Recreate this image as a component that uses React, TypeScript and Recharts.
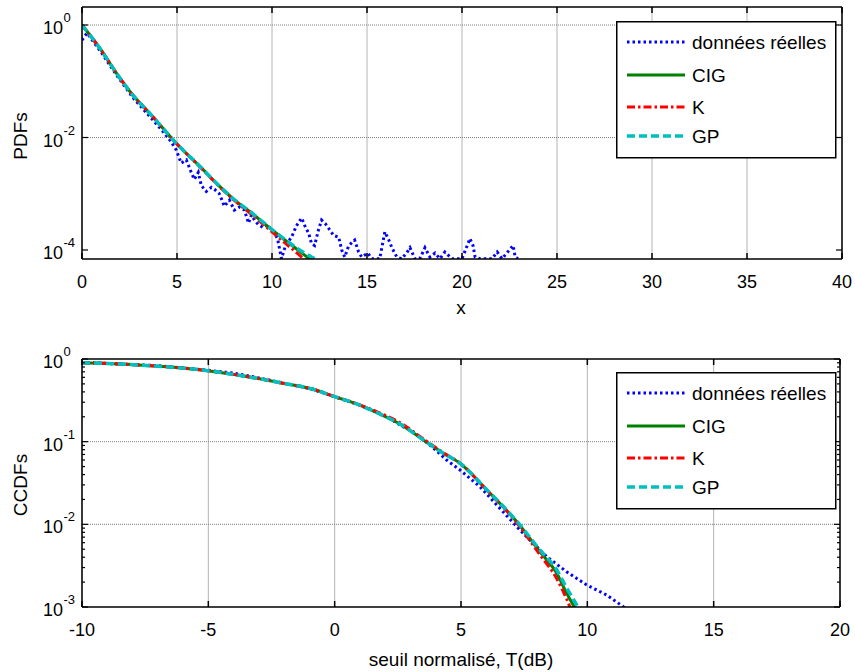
import { LineChart, Line, XAxis, YAxis, CartesianGrid, ReferenceLine } from 'recharts';

const FONT = '"Liberation Sans", Arial, Helvetica, sans-serif';

// ---- top panel: PDFs ----
const pdfTicksX = [0, 5, 10, 15, 20, 25, 30, 35, 40];
const pdfTicksY = [1e-4, 1e-2, 1];
const pdfGridY = [1e-2, 1];

const pdfFitX = [0, 1.0, 1.88, 2.74, 3.64, 4.96, 6.28, 7.16, 8.02, 8.92, 9.8, 10.66, 11.56, 12.4];
const pdfCig = [1.0, 0.36, 0.129, 0.0535, 0.0252, 0.0079, 0.00288, 0.00144, 0.00078, 0.000455, 0.000259, 0.000152, 0.000089, 0.000054];
const pdfK = [1.0, 0.36, 0.129, 0.0535, 0.0252, 0.0079, 0.00285, 0.00142, 0.00076, 0.00043, 0.00024, 0.000135, 0.000075, 0.00004];
const pdfGp = [1.0, 0.36, 0.129, 0.0535, 0.0252, 0.0079, 0.0029, 0.00145, 0.00079, 0.00046, 0.000262, 0.000155, 0.000095, 0.000066];

const pdfDataX = [
  0, 0.26, 1.0, 1.85, 2.74, 3.64, 4.33, 4.7, 4.96, 5.22, 5.49, 5.75, 5.91, 6.12, 6.28, 6.54, 6.81, 6.97,
  7.23, 7.49, 7.76, 8.02, 8.28, 8.55, 8.76, 8.92, 9.08, 9.29, 9.55, 9.76, 10.08, 10.29, 10.5, 10.71,
  11.03, 11.29, 11.56, 11.77, 11.93, 12.08, 12.24, 12.45, 12.61, 12.82, 13.03, 13.25, 13.51, 13.67,
  13.83, 14.04, 14.35, 14.56, 14.72, 15.04, 15.25, 15.67, 15.94, 16.15, 16.31, 16.57, 16.83, 17.1,
  17.26, 17.52, 17.78, 18.05, 18.31, 18.58, 18.84, 19.1, 19.47, 20.0, 20.42, 20.58, 20.69, 20.95,
  21.58, 21.85, 22.11, 22.69, 22.8, 22.95,
];
const pdfData = [
  0.54, 0.72, 0.331, 0.124, 0.0483, 0.0222, 0.012, 0.0083, 0.006, 0.0035, 0.004, 0.0024, 0.0018, 0.0024,
  0.0014, 0.0011, 0.0013, 0.0012, 0.001, 0.0006, 0.00077, 0.00051, 0.00058, 0.00051, 0.0003, 0.00042,
  0.00034, 0.00028, 0.00025, 0.00028, 0.00021, 0.00016, 0.00007, 0.00012, 0.00017, 0.00027, 0.00037,
  0.00025, 0.0002, 0.00013, 0.00012, 0.00023, 0.00034, 0.00029, 0.00023, 0.00018, 0.00017, 0.0001,
  0.000075, 0.00012, 0.00015, 0.000092, 0.000075, 0.000088, 0.00007, 0.00007, 0.00021, 0.00015,
  0.00011, 0.000075, 0.00007, 0.00009, 0.00011, 0.00007, 0.00007, 0.00011, 0.000075, 0.0000885,
  0.00007, 0.000092, 0.00007, 0.00007, 0.00016, 0.00012, 0.000075, 0.00007, 0.00007, 0.000092,
  0.00007, 0.00012, 0.000075, 0.00007,
];

// ---- bottom panel: CCDFs ----
const ccdfTicksX = [-10, -5, 0, 5, 10, 15, 20];
const ccdfTicksY = [1e-3, 1e-2, 1e-1, 1];
const ccdfMinorY = [
  0.002, 0.003, 0.004, 0.005, 0.006, 0.007, 0.008, 0.009,
  0.02, 0.03, 0.04, 0.05, 0.06, 0.07, 0.08, 0.09,
  0.2, 0.3, 0.4, 0.5, 0.6, 0.7, 0.8, 0.9,
];
const ccdfGridY = [1e-2, 1e-1];

const ccdfFitX = [-10, -9.16, -7.77, -6.39, -5.03, -3.62, -2.16, -0.85, 0, 0.87, 1.79, 2.58, 3.51, 4.3, 4.96, 6.02, 7.2, 8.12, 8.79, 9.18, 9.51, 9.8];
const ccdfCig = [0.9, 0.887, 0.846, 0.794, 0.722, 0.623, 0.517, 0.43, 0.35, 0.286, 0.216, 0.164, 0.105, 0.0724, 0.0548, 0.026, 0.0108, 0.00467, 0.00256, 0.00147, 0.00096, 0.0006];
const ccdfK = [0.9, 0.887, 0.846, 0.794, 0.722, 0.623, 0.517, 0.43, 0.35, 0.288, 0.222, 0.17, 0.108, 0.0735, 0.0548, 0.026, 0.0105, 0.0043, 0.0022, 0.00125, 0.0007, 0.0004];
const ccdfGp = [0.9, 0.887, 0.846, 0.794, 0.722, 0.623, 0.517, 0.43, 0.35, 0.286, 0.216, 0.164, 0.105, 0.0724, 0.0548, 0.0262, 0.011, 0.0049, 0.0028, 0.0017, 0.00115, 0.0008];

const ccdfDataX = [-10, -7, -5, -4, -3, -2, -1, 0, 1, 2, 2.7, 3.1, 3.77, 4.43, 4.96, 5.75, 6.54, 7.33, 7.99, 8.39, 9.18, 9.97, 10.76, 11.42, 11.6];
const ccdfData = [0.91, 0.83, 0.73, 0.675, 0.59, 0.51, 0.44, 0.35, 0.275, 0.205, 0.152, 0.132, 0.091, 0.06, 0.0454, 0.0285, 0.0156, 0.00855, 0.00537, 0.00406, 0.00267, 0.00185, 0.0014, 0.00101, 0.0009];

const legendNames = ['données réelles', 'CIG', 'K', 'GP'];

const STYLES = [
  { color: '#0000ff', width: 3, dash: '2.5 3' },
  { color: '#008000', width: 3, dash: undefined },
  { color: '#ff0000', width: 3, dash: '8 3 2.5 3' },
  { color: '#00bfbf', width: 3.5, dash: '8 4' },
];

const pts = (xs: number[], ys: number[]) => xs.map((x, i) => ({ x, y: ys[i] }));

interface Box { left: number; right: number; top: number; bottom: number }

// bottom tick label plus inward tick marks on bottom and top edges
const makeXTick = (box: Box) => (props: any) => {
  const { x, y, payload } = props;
  return (
    <g>
      <line x1={x} x2={x} y1={box.bottom} y2={box.bottom - 6} stroke="#000" strokeWidth={1.5} />
      <line x1={x} x2={x} y1={box.top} y2={box.top + 6} stroke="#000" strokeWidth={1.5} />
      <text x={x} y={y + 29} textAnchor="middle" fontSize={18} fontFamily={FONT} fill="#000">
        {payload.value}
      </text>
    </g>
  );
};

// 10^n label for decades, inward tick marks on left and right edges (short ones for minor ticks)
const makeYTick = (box: Box, majors: number[]) => (props: any) => {
  const { y, payload } = props;
  const major = majors.includes(payload.value);
  const len = major ? 6 : 3;
  const e = Math.round(Math.log10(payload.value));
  return (
    <g>
      <line x1={box.left} x2={box.left + len} y1={y} y2={y} stroke="#000" strokeWidth={1.2} />
      <line x1={box.right} x2={box.right - len} y1={y} y2={y} stroke="#000" strokeWidth={1.2} />
      {major && (
        <>
          <text x={63} y={y + 9} textAnchor="end" fontSize={18} fontFamily={FONT} fill="#000">10</text>
          <text x={63.5} y={y - 3} textAnchor="start" fontSize={13} fontFamily={FONT} fill="#000">{e}</text>
        </>
      )}
    </g>
  );
};

function NoLabel() {
  return <g />;
}

function Legend({ left, top }: { left: number; top: number }) {
  const rows = [21, 54, 86, 115];
  return (
    <svg style={{ position: 'absolute', left, top }} width={221} height={138}>
      <rect x={0.75} y={0.75} width={219} height={136} fill="#fff" stroke="#000" strokeWidth={1.5} />
      {legendNames.map((n, i) => (
        <g key={n}>
          <line x1={11} x2={69} y1={rows[i]} y2={rows[i]} stroke={STYLES[i].color}
            strokeWidth={STYLES[i].width} strokeDasharray={STYLES[i].dash} />
          <text x={76} y={rows[i] + 7} fontSize={19} fontFamily={FONT} fill="#000">{n}</text>
        </g>
      ))}
    </svg>
  );
}

interface PanelProps {
  top: number;
  height: number;
  margin: { top: number; right: number; left: number; bottom: number };
  xDomain: [number, number];
  xTicks: number[];
  yDomain: [number, number];
  yTicks: number[];
  yMinor: number[];
  gridY: number[];
  series: { x: number; y: number }[][];
  xLabel: string;
  xLabelY: number;
  yLabel: string;
  yLabelY: number;
}

function Panel(p: PanelProps) {
  const axisLine = { stroke: '#000', strokeWidth: 1.5 };
  const box: Box = {
    left: p.margin.left + 82,
    right: 855 - p.margin.right,
    top: p.margin.top,
    bottom: p.height - p.margin.bottom - 40,
  };
  const XTick = makeXTick(box);
  const YTick = makeYTick(box, p.yTicks);
  const allY = [...p.yTicks, ...p.yMinor].sort((a, b) => a - b);
  return (
    <div style={{ position: 'absolute', left: 0, top: p.top }}>
      <LineChart width={855} height={p.height} margin={p.margin}>
        <CartesianGrid xAxisId="b" yAxisId="l" horizontal={false} stroke="#b4b4b4" />
        {p.gridY.map((g) => (
          <ReferenceLine key={g} xAxisId="b" yAxisId="l" y={g} stroke="#808080" strokeDasharray="1 1" />
        ))}
        <XAxis xAxisId="b" orientation="bottom" height={40} type="number" dataKey="x"
          domain={p.xDomain} ticks={p.xTicks} allowDataOverflow interval={0}
          axisLine={axisLine} tickLine={false} tickSize={0} tickMargin={0} tick={<XTick />} />
        <XAxis xAxisId="t" orientation="top" mirror height={1} type="number" dataKey="x"
          domain={p.xDomain} ticks={p.xTicks} allowDataOverflow
          axisLine={axisLine} tickLine={false} tick={<NoLabel />} />
        <YAxis yAxisId="l" orientation="left" width={82} type="number" scale="log"
          domain={p.yDomain} ticks={allY} allowDataOverflow interval={0}
          axisLine={axisLine} tickLine={false} tickSize={0} tick={<YTick />} />
        <YAxis yAxisId="rm" orientation="right" mirror width={1} type="number" scale="log"
          domain={p.yDomain} ticks={p.yTicks} allowDataOverflow
          axisLine={axisLine} tickLine={false} tick={<NoLabel />} />
        {p.series.map((d, i) => (
          <Line key={i} xAxisId="b" yAxisId="l" data={d} dataKey="y" type={i === 0 ? 'linear' : 'monotone'}
            stroke={STYLES[i].color} strokeWidth={STYLES[i].width} strokeDasharray={STYLES[i].dash}
            dot={false} activeDot={false} isAnimationActive={false} />
        ))}
      </LineChart>
      <svg style={{ position: 'absolute', left: 0, top: 0, pointerEvents: 'none' }} width={855} height={p.height}>
        <text x={461} y={p.xLabelY} textAnchor="middle" fontSize={19} fontFamily={FONT} fill="#000">{p.xLabel}</text>
        <text transform={`translate(27, ${p.yLabelY}) rotate(-90)`} textAnchor="middle" fontSize={19}
          fontFamily={FONT} fill="#000">{p.yLabel}</text>
      </svg>
    </div>
  );
}

export default function App() {
  return (
    <div style={{ position: 'absolute', left: 0, top: 0, width: 855, height: 672, background: '#fff', overflow: 'hidden' }}>
      <Panel
        top={0}
        height={330}
        margin={{ top: 7, right: 13, left: 0, bottom: 31 }}
        xDomain={[0, 40]}
        xTicks={pdfTicksX}
        yDomain={[6.92e-5, 2.09]}
        yTicks={pdfTicksY}
        yMinor={[]}
        gridY={pdfGridY}
        series={[pts(pdfDataX, pdfData), pts(pdfFitX, pdfCig), pts(pdfFitX, pdfK), pts(pdfFitX, pdfGp)]}
        xLabel="x"
        xLabelY={314}
        yLabel="PDFs"
        yLabelY={136}
      />
      <Panel
        top={330}
        height={342}
        margin={{ top: 29, right: 15, left: 0, bottom: 25 }}
        xDomain={[-10, 20]}
        xTicks={ccdfTicksX}
        yDomain={[1e-3, 1]}
        yTicks={ccdfTicksY}
        yMinor={ccdfMinorY}
        gridY={ccdfGridY}
        series={[pts(ccdfDataX, ccdfData), pts(ccdfFitX, ccdfCig), pts(ccdfFitX, ccdfK), pts(ccdfFitX, ccdfGp)]}
        xLabel="seuil normalisé, T(dB)"
        xLabelY={336}
        yLabel="CCDFs"
        yLabelY={155}
      />
      <Legend left={616} top={21} />
      <Legend left={616} top={372} />
    </div>
  );
}
